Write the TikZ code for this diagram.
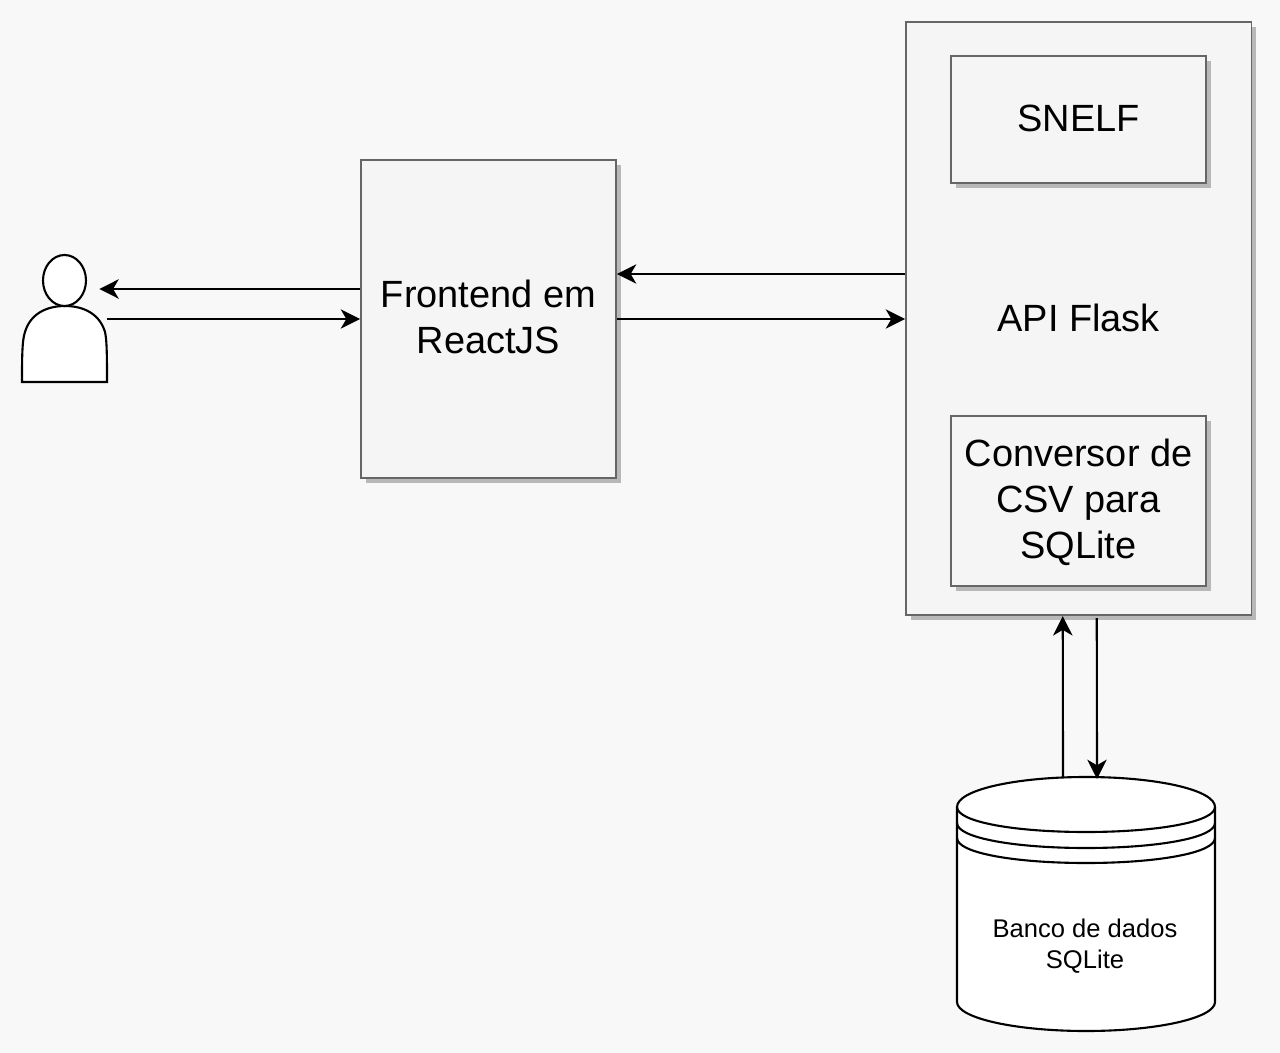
\documentclass[tikz,border=0pt]{standalone}
\usepackage{fontspec}
\setmainfont{Liberation Sans}
\usetikzlibrary{calc,arrows.meta,shadows}
\definecolor{bgcol}{HTML}{F8F8F8}
\definecolor{boxfill}{HTML}{F5F5F5}
\definecolor{boxline}{HTML}{666666}
\definecolor{shadowcol}{HTML}{B8B8B8}
\tikzset{
	box/.style={draw=boxline, fill=boxfill, line width=1.1pt, inner sep=0pt, align=center,
		font=\fontsize{21.6}{26}\selectfont,
		drop shadow={shadow xshift=2.8pt, shadow yshift=-2.8pt, fill=shadowcol, opacity=1}},
	flow/.style={line width=1.2pt, -{Stealth[length=11pt, width=11pt, inset=3.2pt]}},
	shapeline/.style={draw=black, fill=white, line width=1.2pt}
}

\begin{document}
\begin{tikzpicture}[x=0.02cm, y=-0.02cm]
		%%%%% START %%%%%
		\fill[bgcol] (0, 0) rectangle (1280, 1053);
		
		\node[box, text depth=2.4pt, minimum width=5.1cm, minimum height=6.36cm] (front) at (488.5, 319) {Frontend em\\ReactJS};
		\node[box, text depth=1.1pt, minimum width=6.91cm, minimum height=11.86cm] (api) at (1078.75, 318.75) {API Flask};
		\node[box, text depth=1.1pt, minimum width=5.1cm, minimum height=2.54cm] (snelf) at (1078.5, 119.5) {SNELF};
		\node[box, minimum width=5.1cm, minimum height=3.4cm] (conv) at (1078.5, 501) {\rule{0pt}{17pt}Conversor de\\CSV para\\SQLite};
		
		% user
		\draw[shapeline] (22, 382) .. controls (22, 360) and (22, 340) .. (25, 332) .. controls (30, 315) and (45, 306) .. (65, 306) .. controls (85, 306) and (100, 315) .. (105, 332) .. controls (107, 340) and (107, 360) .. (107, 382) -- cycle;
		\draw[shapeline] (64.5, 280.5) ellipse (21.5 and 25.5);
		\node[minimum width=1.7cm, minimum height=2.54cm, inner sep=0pt] (user) at (64.5, 319) {};
		
		% database
		\draw[shapeline] (957, 807) .. controls (957, 790) and (1015, 777) .. (1086, 777) .. controls (1157, 777) and (1215, 790) .. (1215, 807) -- (1215, 1002) .. controls (1215, 1018) and (1157, 1031) .. (1086, 1031) .. controls (1015, 1031) and (957, 1018) .. (957, 1002) -- cycle;
		\draw[line width=1.2pt] (957, 807) .. controls (957, 822) and (1015, 832) .. (1086, 832) .. controls (1157, 832) and (1215, 822) .. (1215, 807);
		\draw[line width=1.2pt] (957, 823) .. controls (957, 838) and (1015, 848) .. (1086, 848) .. controls (1157, 848) and (1215, 838) .. (1215, 823);
		\draw[line width=1.2pt] (957, 838) .. controls (957, 853) and (1015, 863) .. (1086, 863) .. controls (1157, 863) and (1215, 853) .. (1215, 838);
		\node[align=center, inner sep=0pt, font=\fontsize{14.55}{17.6}\selectfont] (dblabel) at (1085, 946) {Banco de dados\\SQLite};
		\coordinate (db) at (1086, 777);
		
		\draw[flow] ($(front.west)+(0, -30)$) -- ($(user.east)+(-8, -30)$);
		\draw[flow] (user.east) -- (front.west);
		\draw[flow] ($(front.east -| api.west)+(0, -45)$) -- ($(front.east)+(0, -45)$);
		\draw[flow] (front.east) -- (front.east -| api.west);
		\draw[flow] ($(db)+(-23, 1)$) -- ($(api.south)+(-16, 0)$);
		\draw[flow] ($(api.south)+(18, 2)$) -- ($(db)+(11, 2)$);
		%%%%% END %%%%%
	\end{tikzpicture}
\end{document}
